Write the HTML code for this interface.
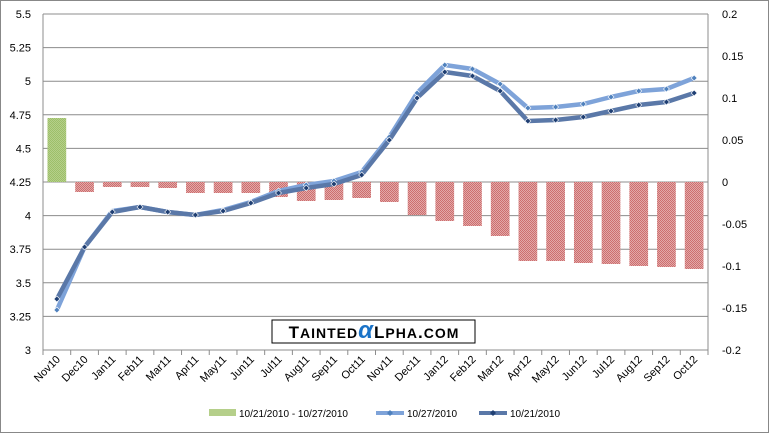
<!DOCTYPE html>
<html><head><meta charset="utf-8"><style>
body{margin:0;background:#fff;}
svg{display:block;font-family:"Liberation Sans",sans-serif;}
</style></head><body>
<svg id="c" width="769" height="433" viewBox="0 0 769 433" xmlns="http://www.w3.org/2000/svg">
<rect x="0.5" y="0.5" width="768" height="432" fill="#fff" stroke="#888"/>
<g id="g"></g>
</svg>
<script>
const NS="http://www.w3.org/2000/svg",g=document.getElementById('g');
function el(t,a,txt){const e=document.createElementNS(NS,t);for(const k in a)e.setAttribute(k,a[k]);if(txt!=null)e.textContent=txt;g.appendChild(e);return e;}
const L=43,R=708,T=14,B=350,n=24,w=(R-L)/n;
const cats=["Nov10","Dec10","Jan11","Feb11","Mar11","Apr11","May11","Jun11","Jul11","Aug11","Sep11","Oct11","Nov11","Dec11","Jan12","Feb12","Mar12","Apr12","May12","Jun12","Jul12","Aug12","Sep12","Oct12"];
for(let i=0;i<=10;i++){const y=T+i*(B-T)/10;el('line',{x1:L,x2:R,y1:y,y2:y,stroke:'#8c8c8c','stroke-width':1});}
const ll=["5.5","5.25","5","4.75","4.5","4.25","4","3.75","3.5","3.25","3"];
ll.forEach((s,i)=>el('text',{x:31,y:T+i*33.6+4,'font-size':11,'text-anchor':'end'},s));
const rl=["0.2","0.15","0.1","0.05","0","-0.05","-0.1","-0.15","-0.2"];
rl.forEach((s,i)=>el('text',{x:722,y:T+i*42+4,'font-size':11},s));
el('line',{x1:L,x2:L,y1:T,y2:B,stroke:'#8c8c8c'});
el('line',{x1:R,x2:R,y1:T,y2:B,stroke:'#8c8c8c'});
for(let i=0;i<=n;i++){el('line',{x1:L+i*w,x2:L+i*w,y1:B,y2:B+5,stroke:'#8c8c8c'});}
const defs=document.createElementNS(NS,'defs');defs.innerHTML='<pattern id="hp" width="2" height="2" patternUnits="userSpaceOnUse"><rect width="2" height="2" fill="#e2a8a8"/><rect width="1" height="1" fill="#cd6e6e"/><rect x="1" y="1" width="1" height="1" fill="#cd6e6e"/></pattern><pattern id="gp" width="2" height="2" patternUnits="userSpaceOnUse"><rect width="2" height="2" fill="#b5cf8a"/><rect width="1" height="1" fill="#9dbf6a"/><rect x="1" y="1" width="1" height="1" fill="#9dbf6a"/></pattern>';
document.getElementById('c').insertBefore(defs,g);
const bars=[118,192,187,187,188,193,193,193,197,201,200,198,202,215,221,226,236,261,261,263,264,266,267,269];
bars.forEach((b,i)=>{const x=L+i*w+4.5,bw=w-9;const y0=182;
 if(b<y0)el('rect',{x:x,y:b,width:bw,height:y0-b,fill:'url(#gp)'});else el('rect',{x:x,y:y0,width:bw,height:b-y0,fill:'url(#hp)'});});
const l27=[310,247,211,207,212,215,210,202,191,185,181,172,137,93,65,69,84,108,107,104,97,91,89,78];
const l21=[299,247,212,207,212,215,211,203,193,188,184,175,140,98,72,76,91,121,120,117,111,105,102,93];
function line(d,col,mk){const pts=d.map((y,i)=>(L+(i+0.5)*w).toFixed(1)+','+y).join(' ');
 el('polyline',{points:pts,fill:'none',stroke:col,'stroke-width':4.5,'stroke-linejoin':'round'});
 d.forEach((y,i)=>{const x=L+(i+0.5)*w;el('path',{d:`M${x} ${y-3}L${x+3} ${y}L${x} ${y+3}L${x-3} ${y}Z`,fill:mk,stroke:'#fff','stroke-width':0.6});});}
line(l27,'#7ea3d9','#4f81bd');
line(l21,'#5a78a8','#1f3f73');
cats.forEach((c,i)=>{const x=L+(i+0.5)*w+4,y=B+10;el('text',{x:x,y:y,'font-size':11,'text-anchor':'end',transform:`rotate(-45 ${x} ${y})`},c);});
el('rect',{x:272,y:320,width:203,height:23,fill:'#fff',stroke:'#000','stroke-width':1});
el('text',{x:374,y:338,'font-size':17,'font-weight':'bold','text-anchor':'middle','letter-spacing':'1'},'').innerHTML='T<tspan font-size="14">AINTED</tspan><tspan fill="#1a73c8" font-size="24" font-style="italic">α</tspan>L<tspan font-size="14">PHA</tspan>.<tspan font-size="14">COM</tspan>';
el('rect',{x:209,y:409,width:27,height:7,fill:'#b5cf8a'});
el('text',{x:239,y:417,'font-size':10},'10/21/2010 - 10/27/2010');
el('line',{x1:376,x2:404,y1:413,y2:413,stroke:'#7ea3d9','stroke-width':4});
el('path',{d:'M390 410L393 413L390 416L387 413Z',fill:'#4f81bd'});
el('text',{x:407,y:417,'font-size':10},'10/27/2010');
el('line',{x1:479,x2:507,y1:413,y2:413,stroke:'#5a78a8','stroke-width':4});
el('path',{d:'M493 410L496 413L493 416L490 413Z',fill:'#1f3f73'});
el('text',{x:510,y:417,'font-size':10},'10/21/2010');
</script>
</body></html>
